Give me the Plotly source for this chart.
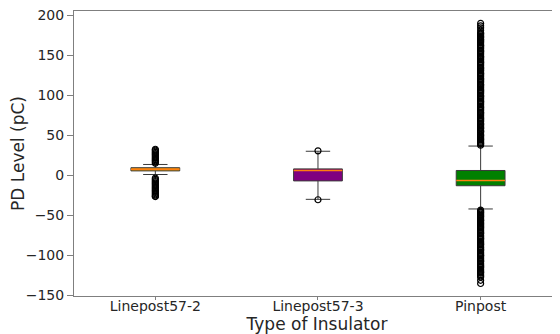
import plotly.graph_objects as go

categories = ["Linepost57-2", "Linepost57-3", "Pinpost"]
positions = [1, 2, 3]
box_colors = ["orange", "purple", "green"]

q1 = [5.5, -7.0, -13.0]
median = [7.5, 6.0, -6.5]
q3 = [9.5, 8.0, 6.0]
lower_fence = [1.0, -30.0, -42.0]
upper_fence = [13.5, 30.0, 36.5]

outliers_lp572 = [15, 16.5, 18, 19.5, 21, 22.5, 24, 25.5, 27, 28.5, 30, 31.5, 32.5,
                  -3.5, -5, -6.5, -8, -9.5, -11, -12.5, -14, -15.5, -17, -18.5, -20,
                  -21.5, -23, -24.5, -26, -26.5]
outliers_lp573 = [30.5, -30.5]
outliers_pin = [37.5, 39, 40, 41, 42.5, 44, 45, 46, 47.5, 49, 50, 51, 53, 54.5, 55, 56, 58, 59, 60, 61.5,
                63, 64, 65, 67, 68.5, 70, 71, 72, 74, 75.5, 77, 78, 79, 81, 82.5, 84, 85, 86, 88, 89.5,
                91, 92, 93, 95, 96.5, 98, 99, 100, 102, 103.5, 105, 106, 107, 109, 110.5, 112, 113, 114,
                116, 117.5, 119, 120, 121, 123, 124.5, 126, 127, 128, 130, 131.5, 133, 134, 135, 137,
                138.5, 140, 141, 142, 144, 145.5, 147, 148, 149, 151, 152.5, 154, 155, 156, 158, 159.5,
                161, 162, 163, 165, 166.5, 168, 169, 170, 172, 173, 174, 176, 177, 178, 181, 184, 186.5, 189.5,
                -43.5, -45, -46, -47, -48.5, -50, -51, -52, -54, -55.5, -56, -57, -59, -60, -61, -62.5, -64,
                -65, -66, -68, -69.5, -71, -72, -73, -75, -76.5, -78, -79, -80, -82, -83.5, -85, -86, -87,
                -89, -90.5, -92, -93, -94, -96, -97.5, -99, -100, -101, -103, -104.5, -106, -107, -108,
                -110, -111.5, -113, -114, -115, -117, -118.5, -120, -121, -122, -124, -125.5, -127,
                -131, -135]
outliers = [outliers_lp572, outliers_lp573, outliers_pin]

y_ticks = [-150, -100, -50, 0, 50, 100, 150, 200]
box_width = 0.3
median_color = "#ff7f0e"
FONT = "DejaVu Sans"

fig = go.Figure()

for i, cat in enumerate(categories):
    p = positions[i]
    fig.add_trace(go.Box(
        x=[p], q1=[q1[i]], median=[median[i]], q3=[q3[i]],
        lowerfence=[lower_fence[i]], upperfence=[upper_fence[i]],
        width=box_width, whiskerwidth=0.5,
        fillcolor=box_colors[i],
        line=dict(color="#3a3a3a", width=1),
        boxpoints=False, showlegend=False, name=cat,
    ))
    fig.add_trace(go.Scatter(
        x=[p - box_width / 2, p + box_width / 2], y=[median[i], median[i]],
        mode="lines", line=dict(color=median_color, width=1.5),
        showlegend=False, hoverinfo="skip",
    ))
    fig.add_trace(go.Scatter(
        x=[p] * len(outliers[i]), y=outliers[i], mode="markers",
        marker=dict(symbol="circle-open", size=6, color="black",
                    line=dict(width=1.2, color="black")),
        showlegend=False,
    ))

fig.update_layout(
    width=552, height=326,
    margin=dict(l=66, r=0, t=3, b=38, autoexpand=False),
    paper_bgcolor="white", plot_bgcolor="white",
    font=dict(family=FONT, size=14, color="#262626"),
    xaxis=dict(
        range=[0.5, 3.488], tickmode="array", tickvals=positions, ticktext=categories,
        showgrid=False, zeroline=False, showline=True, linecolor="#7f7f7f",
        linewidth=1, mirror=True, ticks="outside", ticklen=3, tickcolor="#7f7f7f",
        tickfont=dict(size=14), automargin=False, ticklabelstandoff=-6,
        title=dict(text="Type of Insulator", font=dict(size=17), standoff=6),
    ),
    yaxis=dict(
        range=[-150.6, 205], tickmode="array", tickvals=y_ticks,
        ticktext=[("\u2212" + str(-v)) if v < 0 else str(v) for v in y_ticks],
        showgrid=False, zeroline=False, showline=True, linecolor="#7f7f7f",
        linewidth=1, ticks="outside", ticklen=6, tickcolor="#7f7f7f",
        tickfont=dict(size=14), automargin=False, ticklabeloverflow="allow",
        title=dict(text="PD Level (pC)", font=dict(size=17), standoff=0),
    ),
)

fig.write_html("out.html")
